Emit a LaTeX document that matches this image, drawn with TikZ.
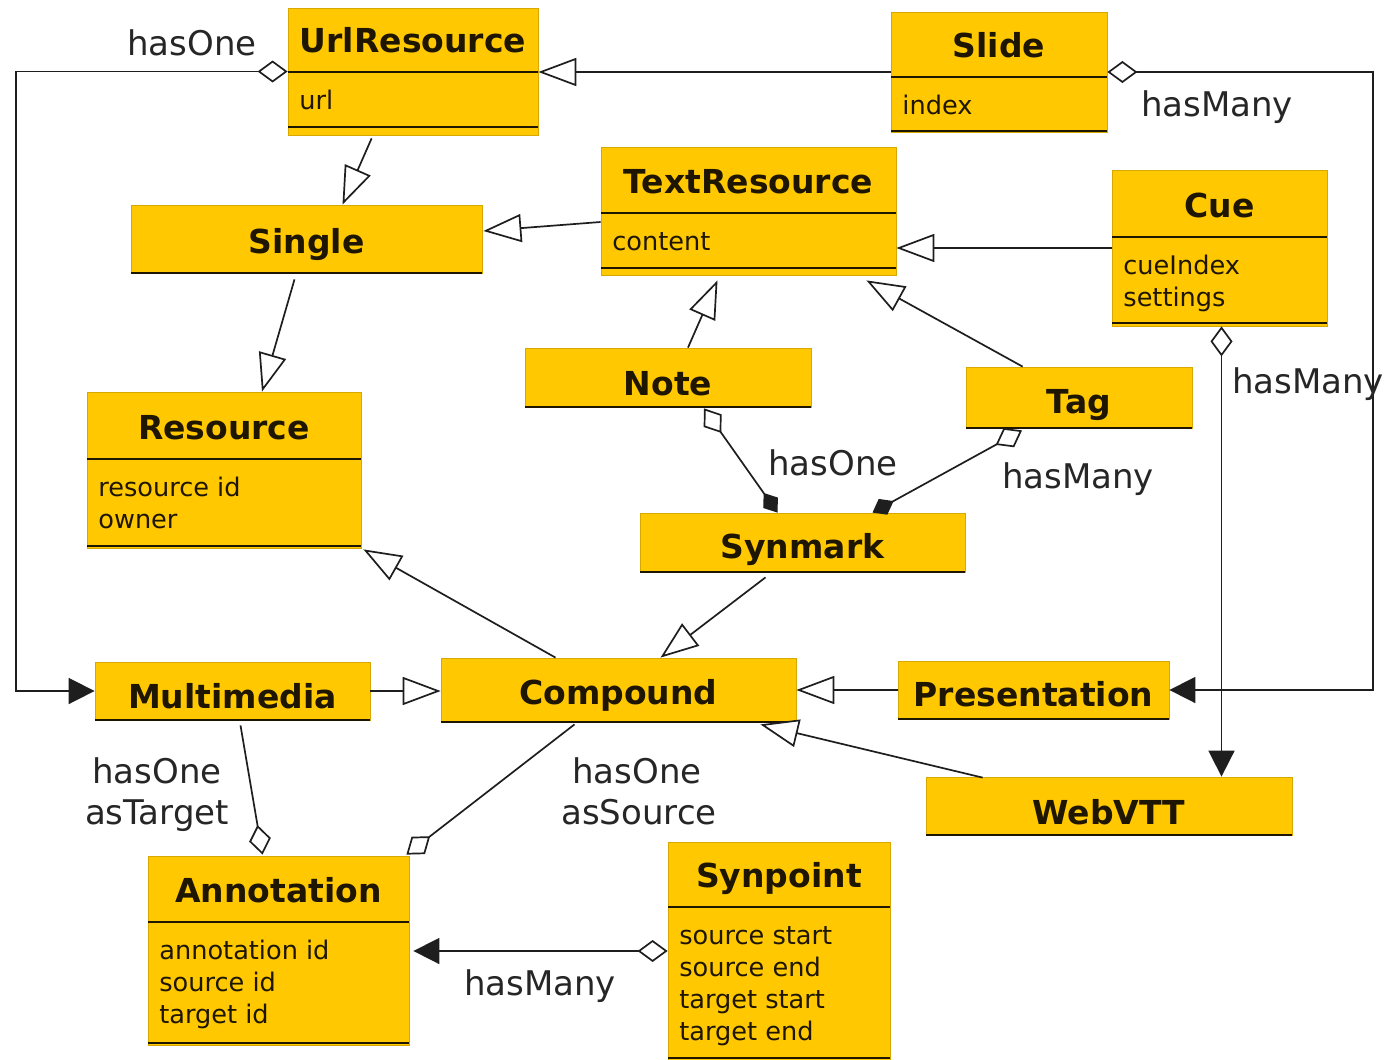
\documentclass[tikz,border=0pt]{standalone}
\usepackage{fontspec}
\setmainfont{DejaVu Sans}
\usetikzlibrary{arrows.meta,calc,fit}

\definecolor{umlfill}{RGB}{255,200,0}
\definecolor{umledge}{RGB}{214,168,0}
\definecolor{inkdark}{RGB}{30,22,0}
\definecolor{wirecol}{RGB}{30,30,30}

\tikzset{
  classbox/.style={fill=umlfill, draw=umledge, line width=0.4pt, inner sep=0pt},
  compline/.style={draw=inkdark, line width=1pt},
  classtitle/.style={font=\fontsize{16.5}{19}\selectfont\bfseries, text=inkdark, anchor=base, inner sep=0pt},
  attrtext/.style={font=\fontsize{12.8}{15}\selectfont, text=inkdark, anchor=base west, inner sep=0pt},
  rolelabel/.style={font=\fontsize{17}{20}\selectfont, text=black!85, anchor=base, inner sep=0pt},
  wire/.style={draw=wirecol, line width=0.85pt},
  generalizes/.style={wire, -{Triangle[open, length=19pt, width=14pt, fill=white]}},
  aggregates/.style={wire, {Diamond[open, length=15pt, width=11pt, fill=white]}-{Triangle[length=13pt, width=13pt]}},
  aggregatesplain/.style={wire, {Diamond[open, length=15pt, width=11pt, fill=white]}-},
  composes/.style={wire, {Diamond[open, length=15pt, width=11pt, fill=white]}-{Diamond[length=12pt, width=9pt]}},
}

% class with a name compartment and an attribute compartment
% #1 name, #2 left, #3 top, #4 right, #5 separator y, #6 closing line y, #7 bottom, #8 title, #9 attributes
\newcommand\attrclass[9]{%
  \node[classbox, fit={(#2,#3) (#4,#7)}] (#1) {};
  \draw[compline] (#2,#5) -- (#4,#5) (#2,#6) -- (#4,#6);
  \node[classtitle] (#1-name) at ({(#2+#4)/2},{#5-20}) {#8};
  \foreach \attr [count=\k] in {#9}
    \node[attrtext] (#1-attr\k) at ({#2+11},{#5+37+32*(\k-1)}) {\attr};
}
% class with a name compartment only
% #1 name, #2 left, #3 top, #4 right, #5 bottom, #6 title baseline, #7 title
\newcommand\simpleclass[7]{%
  \node[classbox, fit={(#2,#3) (#4,#5)}] (#1) {};
  \draw[compline, line width=0.6pt] (#2,#5) -- (#4,#5);
  \node[classtitle] (#1-name) at ({(#2+#4)/2},#6) {#7};
}

\begin{document}
\begin{tikzpicture}[x=0.5pt, y=-0.5pt]
\useasboundingbox[fill=white] (0,0) rectangle (1387,1060);

% classes
\attrclass{url}{288}{8}{538}{72}{127}{135}{UrlResource}{url}
\attrclass{slide}{891}{12}{1107}{77}{131}{132}{Slide}{index}
\attrclass{text}{601}{147}{896}{213}{268}{275}{TextResource}{content}
\attrclass{cue}{1112}{170}{1327}{237}{323}{326}{Cue}{cueIndex,settings}
\attrclass{res}{87}{392}{361}{459}{546}{548}{Resource}{resource id,owner}
\attrclass{ann}{148}{856}{409}{922}{1043}{1045}{Annotation}{annotation id,source id,target id}
\attrclass{synpoint}{668}{842}{890}{907}{1058}{1060}{Synpoint}{source start,source end,target start,target end}

\simpleclass{single}{131}{205}{482}{273}{253}{Single}
\simpleclass{note}{525}{348}{811}{407}{395}{Note}
\simpleclass{tag}{966}{367}{1192}{428}{413}{Tag}
\simpleclass{synmark}{640}{513}{965}{572}{558}{Synmark}
\simpleclass{mm}{95}{662}{370}{720}{708}{Multimedia}
\simpleclass{comp}{441}{658}{796}{722}{704}{Compound}
\simpleclass{pres}{898}{661}{1169}{719}{706}{Presentation}
\simpleclass{webvtt}{926}{777}{1292}{835}{824}{WebVTT}

% routing rails and ports
\coordinate (leftrail) at (16,0);
\coordinate (rightrail) at (1373,0);
\coordinate (cueport) at ($(cue.south)+(2,0)$);

% generalizations
\draw[generalizes] ($(url.south west)+(84,3)$) -- ($(single.north)+(36,0)$);
\draw[generalizes] (slide.west) -- (slide.west -| url.east);
\draw[generalizes] ($(text.west)+(0,11)$) -- ($(single.east)+(1,-8)$);
\draw[generalizes] (cue.west) -- (cue.west -| text.east);
\draw[generalizes] ($(single.south)+(-12,6)$) -- ($(res.north)+(38,0)$);
\draw[generalizes] ($(note.north)+(20,0)$) -- ($(text.south)+(-31,5)$);
\draw[generalizes] ($(tag.north west)+(57,0)$) -- ($(text.south east)+(-30,5)$);
\draw[generalizes] ($(comp.north)+(-63,0)$) -- ($(res.south east)+(2,1)$);
\draw[generalizes] ($(synmark.south)+(-37,5)$) -- ($(comp.north)+(42,0)$);
\draw[generalizes] (mm.east) -- (mm.east -| comp.west);
\draw[generalizes] (pres.west) -- (pres.west -| comp.east);
\draw[generalizes] ($(webvtt.north west)+(57,1)$) -- ($(comp.south east)+(-36,2)$);

% associations
\draw[aggregates] (url.west) -- (url.west -| leftrail) |- (mm.west);
\draw[aggregates] (slide.east) -- (slide.east -| rightrail) |- (pres.east);
\draw[aggregates] (cueport) -- (cueport |- webvtt.north);
\draw[aggregates] (synpoint.west) -- ($(synpoint.west -| ann.east)+(4,0)$);
\draw[composes] ($(note.south)+(36,1)$) -- ($(synmark.north)+(-25,0)$);
\draw[composes] ($(tag.south)+(-57,2)$) -- ($(synmark.north)+(70,0)$);
\draw[aggregatesplain] ($(ann.north)+(-16,-1)$) -- ($(mm.south)+(8,5)$);
\draw[aggregatesplain] ($(ann.north east)+(-3,-1)$) -- ($(comp.south)+(-44,2)$);

% role labels
\node[rolelabel] (lbl-url-mm) at (192,55) {hasOne};
\node[rolelabel] (lbl-slide-pres) at (1217,116) {hasMany};
\node[rolelabel] (lbl-cue-vtt) at (1308,393) {hasMany};
\node[rolelabel] (lbl-note-syn) at (833,475) {hasOne};
\node[rolelabel] (lbl-tag-syn) at (1078,488) {hasMany};
\node[rolelabel] (lbl-target-a) at (157,783) {hasOne};
\node[rolelabel] (lbl-target-b) at (157,824) {asTarget};
\node[rolelabel] (lbl-source-a) at (637,783) {hasOne};
\node[rolelabel] (lbl-source-b) at (639,824) {asSource};
\node[rolelabel] (lbl-pt-ann) at (540,995) {hasMany};
\end{tikzpicture}
\end{document}
